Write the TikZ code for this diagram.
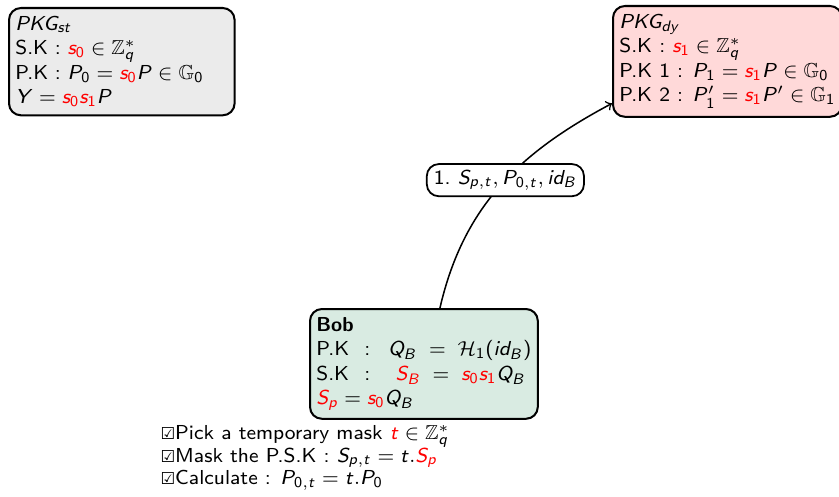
\documentclass[tikz,border=0pt]{standalone}
\usepackage{amssymb}
\usepackage[no-math]{fontspec}
\DeclareSymbolFont{operators}{OT1}{cmss}{m}{n}
\SetSymbolFont{operators}{bold}{OT1}{cmss}{bx}{n}
\DeclareSymbolFont{sfletters}{OT1}{cmss}{m}{sl}
\newcommand{\sfletter}[1]{\DeclareMathSymbol{#1}{\mathalpha}{sfletters}{`#1}}
\sfletter a\sfletter b\sfletter c\sfletter d\sfletter e\sfletter f\sfletter g
\sfletter h\sfletter i\sfletter j\sfletter k\sfletter l\sfletter m\sfletter n
\sfletter o\sfletter p\sfletter q\sfletter r\sfletter s\sfletter t\sfletter u
\sfletter v\sfletter w\sfletter x\sfletter y\sfletter z
\sfletter A\sfletter B\sfletter C\sfletter D\sfletter E\sfletter F\sfletter G
\sfletter H\sfletter I\sfletter J\sfletter K\sfletter L\sfletter M\sfletter N
\sfletter O\sfletter P\sfletter Q\sfletter R\sfletter S\sfletter T\sfletter U
\sfletter V\sfletter W\sfletter X\sfletter Y\sfletter Z
\newfontfamily\symbolfont{DejaVu Sans}
\usetikzlibrary{arrows}

\tikzset{
  keybox/.style={draw, line width=0.8pt, rounded corners=4.7pt, align=left, anchor=north west,
    inner xsep=2.5pt, inner ysep=3.3pt, font=\sffamily\fontsize{8}{9.7}\selectfont},
  msg/.style={draw, fill=white, line width=0.7pt, rounded corners=4.7pt, inner xsep=2.8pt,
    inner ysep=2.4pt, font=\sffamily\fontsize{8}{10}\selectfont}
}
\definecolor{stgray}{RGB}{235,235,235}
\definecolor{dypink}{RGB}{255,217,217}
\definecolor{bobgreen}{RGB}{217,235,226}
\newcommand{\tick}{{\symbolfont\fontsize{6.5}{8}\selectfont ☑}}

\begin{document}
\begin{tikzpicture}[x=0.0139cm,y=0.0139cm]
\useasboundingbox (0,0) rectangle (839,496);
\node[keybox, fill=stgray, text width=2.96cm] (st) at (8,489) {%
$PKG_{st}$\\
S.K : ${\color{red}s_0} \in \mathbb{Z}_q^*$\\
P.K : $P_0 = {\color{red}s_0}P \in \mathbb{G}_0$\\
$Y = {\color{red}s_0 s_1}P$};
\node[keybox, fill=dypink] (dy) at (612,491) {%
$PKG_{dy}$\\
S.K : ${\color{red}s_1} \in \mathbb{Z}_q^*$\\
P.K 1 : $P_1 = {\color{red}s_1}P \in \mathbb{G}_0$\\
P.K 2 : $P'_1 = {\color{red}s_1}P' \in \mathbb{G}_1$};
\node[keybox, fill=bobgreen] (bob) at (309,188) {%
\textbf{Bob}\\
P.K\hspace{6pt}:\hspace{7pt}$Q_B \;=\; \mathcal{H}_1(id_B)$\\
S.K\hspace{6pt}:\hspace{10pt}${\color{red}S_B} \;=\; {\color{red}s_0 s_1}Q_B$\\
${\color{red}S_p} = {\color{red}s_0}Q_B$};
\node[anchor=north west, align=left, inner sep=0pt, font=\sffamily\fontsize{8}{8.9}\selectfont] (steps) at (160,71) {%
\tick Pick a temporary mask ${\color{red}t} \in \mathbb{Z}_q^*$\\
\tick Mask the P.S.K : $S_{p,t} = t.{\color{red}S_p}$\\
\tick Calculate : $P_{0,t} = t.P_0$};
\draw[->, line width=0.6pt] (bob.74) to[out=77, in=208] node[msg, pos=0.53] {1.\ $S_{p,t}, P_{0,t}, id_B$} (dy.200);
\end{tikzpicture}
\end{document}
